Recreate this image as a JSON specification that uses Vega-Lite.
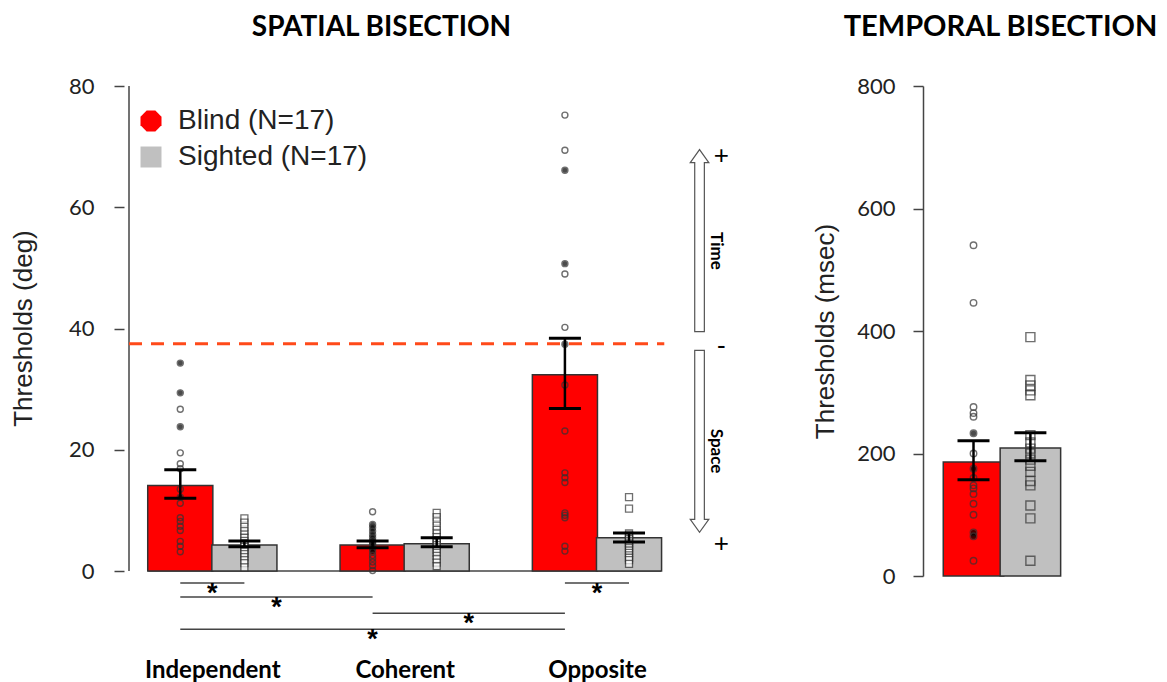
{
  "$schema": "https://vega.github.io/schema/vega-lite/v6.json",
  "background": "white",
  "padding": {"left": 10, "top": 13, "right": 0, "bottom": 0},
  "spacing": 69,
  "config": {"view": {"stroke": null}, "font": "Liberation Sans", "axis": {"grid": false}},
  "datasets": {
    "spatialBars": [
      {"condition": "Independent", "group": "Blind", "slot": 1, "mean": 14.1, "lo": 12.0, "hi": 16.7},
      {"condition": "Independent", "group": "Sighted", "slot": 2, "mean": 4.3, "lo": 4.0, "hi": 4.95},
      {"condition": "Coherent", "group": "Blind", "slot": 4, "mean": 4.3, "lo": 3.85, "hi": 4.95},
      {"condition": "Coherent", "group": "Sighted", "slot": 5, "mean": 4.5, "lo": 4.0, "hi": 5.5},
      {"condition": "Opposite", "group": "Blind", "slot": 7, "mean": 32.4, "lo": 26.8, "hi": 38.4},
      {"condition": "Opposite", "group": "Sighted", "slot": 8, "mean": 5.5, "lo": 4.8, "hi": 6.3}
    ],
    "spatialPts": [
      {"slot": 1, "group": "Blind", "value": 34.3, "type": "filled"},
      {"slot": 1, "group": "Blind", "value": 29.4, "type": "filled"},
      {"slot": 1, "group": "Blind", "value": 26.7, "type": "open"},
      {"slot": 1, "group": "Blind", "value": 23.8, "type": "filled"},
      {"slot": 1, "group": "Blind", "value": 19.5, "type": "open"},
      {"slot": 1, "group": "Blind", "value": 17.7, "type": "open"},
      {"slot": 1, "group": "Blind", "value": 16.9, "type": "open"},
      {"slot": 1, "group": "Blind", "value": 13.5, "type": "open"},
      {"slot": 1, "group": "Blind", "value": 12.2, "type": "filled"},
      {"slot": 1, "group": "Blind", "value": 11.2, "type": "open"},
      {"slot": 1, "group": "Blind", "value": 8.8, "type": "open"},
      {"slot": 1, "group": "Blind", "value": 8.2, "type": "open"},
      {"slot": 1, "group": "Blind", "value": 7.4, "type": "open"},
      {"slot": 1, "group": "Blind", "value": 6.7, "type": "open"},
      {"slot": 1, "group": "Blind", "value": 4.9, "type": "open"},
      {"slot": 1, "group": "Blind", "value": 4.1, "type": "open"},
      {"slot": 1, "group": "Blind", "value": 3.2, "type": "open"},
      {"slot": 2, "group": "Sighted", "value": 8.7, "type": "open"},
      {"slot": 2, "group": "Sighted", "value": 8.0, "type": "open"},
      {"slot": 2, "group": "Sighted", "value": 7.3, "type": "open"},
      {"slot": 2, "group": "Sighted", "value": 6.6, "type": "open"},
      {"slot": 2, "group": "Sighted", "value": 6.0, "type": "open"},
      {"slot": 2, "group": "Sighted", "value": 5.5, "type": "open"},
      {"slot": 2, "group": "Sighted", "value": 5.0, "type": "open"},
      {"slot": 2, "group": "Sighted", "value": 4.6, "type": "open"},
      {"slot": 2, "group": "Sighted", "value": 4.3, "type": "open"},
      {"slot": 2, "group": "Sighted", "value": 4.0, "type": "open"},
      {"slot": 2, "group": "Sighted", "value": 3.6, "type": "open"},
      {"slot": 2, "group": "Sighted", "value": 3.2, "type": "open"},
      {"slot": 2, "group": "Sighted", "value": 2.8, "type": "open"},
      {"slot": 2, "group": "Sighted", "value": 2.3, "type": "open"},
      {"slot": 2, "group": "Sighted", "value": 1.8, "type": "open"},
      {"slot": 2, "group": "Sighted", "value": 1.3, "type": "open"},
      {"slot": 2, "group": "Sighted", "value": 0.6, "type": "open"},
      {"slot": 4, "group": "Blind", "value": 9.8, "type": "open"},
      {"slot": 4, "group": "Blind", "value": 7.7, "type": "filled"},
      {"slot": 4, "group": "Blind", "value": 7.2, "type": "filled"},
      {"slot": 4, "group": "Blind", "value": 6.6, "type": "filled"},
      {"slot": 4, "group": "Blind", "value": 6.0, "type": "filled"},
      {"slot": 4, "group": "Blind", "value": 5.5, "type": "filled"},
      {"slot": 4, "group": "Blind", "value": 5.0, "type": "filled"},
      {"slot": 4, "group": "Blind", "value": 4.7, "type": "filled"},
      {"slot": 4, "group": "Blind", "value": 4.4, "type": "filled"},
      {"slot": 4, "group": "Blind", "value": 4.1, "type": "filled"},
      {"slot": 4, "group": "Blind", "value": 3.7, "type": "filled"},
      {"slot": 4, "group": "Blind", "value": 3.2, "type": "filled"},
      {"slot": 4, "group": "Blind", "value": 2.6, "type": "open"},
      {"slot": 4, "group": "Blind", "value": 2.1, "type": "open"},
      {"slot": 4, "group": "Blind", "value": 1.5, "type": "open"},
      {"slot": 4, "group": "Blind", "value": 0.9, "type": "open"},
      {"slot": 4, "group": "Blind", "value": 0.1, "type": "open"},
      {"slot": 5, "group": "Sighted", "value": 9.6, "type": "open"},
      {"slot": 5, "group": "Sighted", "value": 8.9, "type": "open"},
      {"slot": 5, "group": "Sighted", "value": 8.2, "type": "open"},
      {"slot": 5, "group": "Sighted", "value": 7.5, "type": "open"},
      {"slot": 5, "group": "Sighted", "value": 6.8, "type": "open"},
      {"slot": 5, "group": "Sighted", "value": 6.2, "type": "open"},
      {"slot": 5, "group": "Sighted", "value": 5.6, "type": "open"},
      {"slot": 5, "group": "Sighted", "value": 5.1, "type": "open"},
      {"slot": 5, "group": "Sighted", "value": 4.7, "type": "open"},
      {"slot": 5, "group": "Sighted", "value": 4.3, "type": "open"},
      {"slot": 5, "group": "Sighted", "value": 3.9, "type": "open"},
      {"slot": 5, "group": "Sighted", "value": 3.5, "type": "open"},
      {"slot": 5, "group": "Sighted", "value": 3.0, "type": "open"},
      {"slot": 5, "group": "Sighted", "value": 2.5, "type": "open"},
      {"slot": 5, "group": "Sighted", "value": 2.0, "type": "open"},
      {"slot": 5, "group": "Sighted", "value": 1.4, "type": "open"},
      {"slot": 5, "group": "Sighted", "value": 0.8, "type": "open"},
      {"slot": 7, "group": "Blind", "value": 75.2, "type": "open"},
      {"slot": 7, "group": "Blind", "value": 69.4, "type": "open"},
      {"slot": 7, "group": "Blind", "value": 66.1, "type": "filled"},
      {"slot": 7, "group": "Blind", "value": 50.7, "type": "filled"},
      {"slot": 7, "group": "Blind", "value": 49.0, "type": "open"},
      {"slot": 7, "group": "Blind", "value": 40.2, "type": "open"},
      {"slot": 7, "group": "Blind", "value": 37.4, "type": "filled"},
      {"slot": 7, "group": "Blind", "value": 30.7, "type": "open"},
      {"slot": 7, "group": "Blind", "value": 23.1, "type": "open"},
      {"slot": 7, "group": "Blind", "value": 16.2, "type": "open"},
      {"slot": 7, "group": "Blind", "value": 15.4, "type": "open"},
      {"slot": 7, "group": "Blind", "value": 14.6, "type": "open"},
      {"slot": 7, "group": "Blind", "value": 9.6, "type": "open"},
      {"slot": 7, "group": "Blind", "value": 9.2, "type": "open"},
      {"slot": 7, "group": "Blind", "value": 8.8, "type": "open"},
      {"slot": 7, "group": "Blind", "value": 4.1, "type": "open"},
      {"slot": 7, "group": "Blind", "value": 3.3, "type": "open"},
      {"slot": 8, "group": "Sighted", "value": 12.2, "type": "open"},
      {"slot": 8, "group": "Sighted", "value": 10.3, "type": "open"},
      {"slot": 8, "group": "Sighted", "value": 6.2, "type": "open"},
      {"slot": 8, "group": "Sighted", "value": 5.9, "type": "open"},
      {"slot": 8, "group": "Sighted", "value": 5.6, "type": "open"},
      {"slot": 8, "group": "Sighted", "value": 5.3, "type": "open"},
      {"slot": 8, "group": "Sighted", "value": 5.0, "type": "open"},
      {"slot": 8, "group": "Sighted", "value": 4.7, "type": "open"},
      {"slot": 8, "group": "Sighted", "value": 4.4, "type": "open"},
      {"slot": 8, "group": "Sighted", "value": 4.1, "type": "open"},
      {"slot": 8, "group": "Sighted", "value": 3.8, "type": "open"},
      {"slot": 8, "group": "Sighted", "value": 3.4, "type": "open"},
      {"slot": 8, "group": "Sighted", "value": 3.0, "type": "open"},
      {"slot": 8, "group": "Sighted", "value": 2.6, "type": "open"},
      {"slot": 8, "group": "Sighted", "value": 2.2, "type": "open"},
      {"slot": 8, "group": "Sighted", "value": 1.8, "type": "open"},
      {"slot": 8, "group": "Sighted", "value": 1.2, "type": "open"}
    ],
    "brackets": [
      {"from": 1, "to": 2, "mid": 1.5, "level": -1.98},
      {"from": 1, "to": 4, "mid": 2.5, "level": -4.29},
      {"from": 4, "to": 7, "mid": 5.5, "level": -6.93},
      {"from": 1, "to": 7, "mid": 4.0, "level": -9.57},
      {"from": 7, "to": 8, "mid": 7.5, "level": -1.98}
    ],
    "arrows": [
      {"dir": "up", "x": 9.1, "y": 54.5},
      {"dir": "down", "x": 9.1, "y": 21.4}
    ],
    "signs": [
      {"sign": "+", "x": 9.44, "y": 68.4},
      {"sign": "-", "x": 9.44, "y": 37.1},
      {"sign": "+", "x": 9.44, "y": 4.4}
    ],
    "dims": [
      {"label": "Time", "x": 9.35, "y": 52.8},
      {"label": "Space", "x": 9.35, "y": 19.8}
    ],
    "temporalBars": [
      {"group": "Blind", "slot": 1, "mean": 186, "lo": 157, "hi": 221},
      {"group": "Sighted", "slot": 2, "mean": 209, "lo": 188, "hi": 234}
    ],
    "temporalPts": [
      {"slot": 1, "group": "Blind", "value": 540, "type": "open"},
      {"slot": 1, "group": "Blind", "value": 446, "type": "open"},
      {"slot": 1, "group": "Blind", "value": 276, "type": "open"},
      {"slot": 1, "group": "Blind", "value": 266, "type": "open"},
      {"slot": 1, "group": "Blind", "value": 260, "type": "open"},
      {"slot": 1, "group": "Blind", "value": 233, "type": "filled"},
      {"slot": 1, "group": "Blind", "value": 200, "type": "open"},
      {"slot": 1, "group": "Blind", "value": 175, "type": "filled"},
      {"slot": 1, "group": "Blind", "value": 160, "type": "open"},
      {"slot": 1, "group": "Blind", "value": 148, "type": "open"},
      {"slot": 1, "group": "Blind", "value": 143, "type": "open"},
      {"slot": 1, "group": "Blind", "value": 134, "type": "open"},
      {"slot": 1, "group": "Blind", "value": 118, "type": "open"},
      {"slot": 1, "group": "Blind", "value": 100, "type": "open"},
      {"slot": 1, "group": "Blind", "value": 71, "type": "filled"},
      {"slot": 1, "group": "Blind", "value": 65, "type": "filled"},
      {"slot": 1, "group": "Blind", "value": 25, "type": "open"},
      {"slot": 2, "group": "Sighted", "value": 390, "type": "open"},
      {"slot": 2, "group": "Sighted", "value": 320, "type": "open"},
      {"slot": 2, "group": "Sighted", "value": 311, "type": "open"},
      {"slot": 2, "group": "Sighted", "value": 303, "type": "open"},
      {"slot": 2, "group": "Sighted", "value": 295, "type": "open"},
      {"slot": 2, "group": "Sighted", "value": 230, "type": "open"},
      {"slot": 2, "group": "Sighted", "value": 218, "type": "open"},
      {"slot": 2, "group": "Sighted", "value": 208, "type": "open"},
      {"slot": 2, "group": "Sighted", "value": 200, "type": "open"},
      {"slot": 2, "group": "Sighted", "value": 190, "type": "open"},
      {"slot": 2, "group": "Sighted", "value": 180, "type": "open"},
      {"slot": 2, "group": "Sighted", "value": 170, "type": "open"},
      {"slot": 2, "group": "Sighted", "value": 155, "type": "open"},
      {"slot": 2, "group": "Sighted", "value": 148, "type": "open"},
      {"slot": 2, "group": "Sighted", "value": 115, "type": "open"},
      {"slot": 2, "group": "Sighted", "value": 94, "type": "open"},
      {"slot": 2, "group": "Sighted", "value": 25, "type": "open"}
    ]
  },
  "hconcat": [
    {
      "width": 619,
      "height": 570,
      "title": {"text": "SPATIAL BISECTION", "font": "Lato", "fontWeight": "bold", "fontSize": 28, "color": "black", "frame": "group", "anchor": "middle", "offset": 33, "dx": -52},
      "layer": [
        {
          "data": {"values": [{}]},
          "mark": {"type": "rule", "color": "#444", "strokeWidth": 1.5},
          "encoding": {
            "x": {"datum": 0.2, "type": "quantitative", "title": null},
            "y": {"datum": 0, "type": "quantitative", "title": "Thresholds (deg)"},
            "y2": {"datum": 80}
          }
        },
        {
          "data": {"values": [{}]},
          "mark": {"type": "rule", "color": "#ff4a1a", "strokeWidth": 3, "strokeDash": [13, 9]},
          "encoding": {
            "x": {"datum": 0.2, "type": "quantitative", "title": null},
            "x2": {"datum": 8.55},
            "y": {"datum": 37.5, "type": "quantitative", "title": "Thresholds (deg)"}
          }
        },
        {
          "data": {"values": [{}]},
          "mark": {"type": "rule", "color": "#444", "strokeWidth": 1.5},
          "encoding": {
            "x": {"datum": 0.5, "type": "quantitative", "title": null},
            "x2": {"datum": 8.5},
            "y": {"datum": 0, "type": "quantitative", "title": "Thresholds (deg)"}
          }
        },
        {
          "data": {"name": "spatialBars"},
          "mark": {"type": "bar", "width": 65.1, "stroke": "#333", "strokeWidth": 1.5},
          "encoding": {
            "x": {
              "field": "slot", "type": "quantitative", "title": null,
              "scale": {"domain": [0.2, 9.7], "nice": false, "zero": false},
              "axis": {"orient": "bottom", "values": [1.5, 4.5, 7.5], "labelExpr": "datum.value == 1.5 ? 'Independent' : datum.value == 4.5 ? 'Coherent' : 'Opposite'", "labelFont": "Lato", "labelFontWeight": "bold", "labelFontSize": 24, "labelColor": "black", "labelPadding": 2, "ticks": false, "domain": false, "labelFlush": false, "labelOverlap": false}
            },
            "y": {
              "field": "mean", "type": "quantitative", "title": "Thresholds (deg)",
              "scale": {"domain": [-14, 80], "nice": false, "zero": false},
              "axis": {"values": [0, 20, 40, 60, 80], "titleFont": "Liberation Sans", "titleFontSize": 26, "titleFontWeight": "normal", "titleColor": "#222", "titleX": -88, "titleY": 242, "labelFont": "Lato", "labelFontSize": 22, "labelColor": "#222", "labelPadding": 20, "tickSize": 10, "tickColor": "#444", "tickWidth": 1.5, "domain": false}
            },
            "y2": {"datum": 0},
            "fill": {
              "field": "group", "type": "nominal",
              "scale": {"domain": ["Blind", "Sighted"], "range": ["#ff0000", "#c0c0c0"]},
              "legend": {
                "orient": "none", "legendX": 13, "legendY": 21, "title": null,
                "labelFont": "Liberation Sans", "labelFontSize": 28, "labelColor": "#222", "labelLimit": 0,
                "symbolSize": 441, "symbolStrokeWidth": 0, "rowPadding": 8, "labelOffset": 13,
                "symbolType": {"expr": "datum.value === 'Blind' ? 'M-0.414,-1L0.414,-1L1,-0.414L1,0.414L0.414,1L-0.414,1L-1,0.414L-1,-0.414Z' : 'square'"},
                "labelExpr": "datum.label + ' (N=17)'"
              }
            }
          }
        },
        {
          "data": {"name": "spatialPts"},
          "transform": [{"filter": "datum.group === 'Blind'"}],
          "mark": {"type": "point", "shape": "circle", "filled": true, "size": 36, "stroke": "#333", "strokeWidth": 1.4},
          "encoding": {
            "x": {"field": "slot", "type": "quantitative", "title": null},
            "y": {"field": "value", "type": "quantitative", "title": "Thresholds (deg)"},
            "fill": {"condition": {"test": "datum.type === 'filled'", "value": "black"}, "value": "transparent"}
          }
        },
        {
          "data": {"name": "spatialPts"},
          "transform": [{"filter": "datum.group === 'Sighted'"}],
          "mark": {"type": "point", "shape": "square", "filled": true, "size": 49, "stroke": "#333", "strokeWidth": 1.3},
          "encoding": {
            "x": {"field": "slot", "type": "quantitative", "title": null},
            "y": {"field": "value", "type": "quantitative", "title": "Thresholds (deg)"},
            "fill": {"condition": {"test": "datum.type === 'filled'", "value": "black"}, "value": "white"}
          }
        },
        {
          "data": {"name": "spatialBars"},
          "mark": {"type": "rule", "color": "black", "strokeWidth": 2.5},
          "encoding": {
            "x": {"field": "slot", "type": "quantitative", "title": null},
            "y": {"field": "lo", "type": "quantitative", "title": "Thresholds (deg)"},
            "y2": {"field": "hi"}
          }
        },
        {
          "data": {"name": "spatialBars"},
          "mark": {"type": "tick", "orient": "horizontal", "size": 32, "thickness": 3, "color": "black", "opacity": 1},
          "encoding": {
            "x": {"field": "slot", "type": "quantitative", "title": null},
            "y": {"field": "lo", "type": "quantitative", "title": "Thresholds (deg)"}
          }
        },
        {
          "data": {"name": "spatialBars"},
          "mark": {"type": "tick", "orient": "horizontal", "size": 32, "thickness": 3, "color": "black", "opacity": 1},
          "encoding": {
            "x": {"field": "slot", "type": "quantitative", "title": null},
            "y": {"field": "hi", "type": "quantitative", "title": "Thresholds (deg)"}
          }
        },
        {
          "data": {"name": "brackets"},
          "mark": {"type": "rule", "color": "#444", "strokeWidth": 1.5},
          "encoding": {
            "x": {"field": "from", "type": "quantitative", "title": null},
            "x2": {"field": "to"},
            "y": {"field": "level", "type": "quantitative", "title": "Thresholds (deg)"}
          }
        },
        {
          "data": {"name": "brackets"},
          "mark": {"type": "text", "text": "*", "font": "Liberation Sans", "fontWeight": "bold", "fontSize": 27, "color": "black", "baseline": "alphabetic", "align": "center", "dy": 18.5},
          "encoding": {
            "x": {"field": "mid", "type": "quantitative", "title": null},
            "y": {"field": "level", "type": "quantitative", "title": "Thresholds (deg)"}
          }
        },
        {
          "data": {"name": "arrows"},
          "transform": [{"filter": "datum.dir === 'up'"}],
          "mark": {"type": "point", "filled": true, "fill": "white", "stroke": "#555", "strokeWidth": 1.2, "opacity": 1, "size": 33124, "shape": "M-0.053,1L0.053,1L0.053,-0.857L0.102,-0.857L0,-1L-0.102,-0.857L-0.053,-0.857Z"},
          "encoding": {
            "x": {"field": "x", "type": "quantitative", "title": null},
            "y": {"field": "y", "type": "quantitative", "title": "Thresholds (deg)"}
          }
        },
        {
          "data": {"name": "arrows"},
          "transform": [{"filter": "datum.dir === 'down'"}],
          "mark": {"type": "point", "filled": true, "fill": "white", "stroke": "#555", "strokeWidth": 1.2, "opacity": 1, "size": 33124, "shape": "M-0.053,-1L0.053,-1L0.053,0.857L0.102,0.857L0,1L-0.102,0.857L-0.053,0.857Z"},
          "encoding": {
            "x": {"field": "x", "type": "quantitative", "title": null},
            "y": {"field": "y", "type": "quantitative", "title": "Thresholds (deg)"}
          }
        },
        {
          "data": {"name": "signs"},
          "mark": {"type": "text", "font": "Liberation Sans", "fontSize": 26, "color": "black", "baseline": "middle", "align": "center"},
          "encoding": {
            "x": {"field": "x", "type": "quantitative", "title": null},
            "y": {"field": "y", "type": "quantitative", "title": "Thresholds (deg)"},
            "text": {"field": "sign"}
          }
        },
        {
          "data": {"name": "dims"},
          "mark": {"type": "text", "font": "Lato", "fontWeight": "bold", "fontSize": 17, "color": "black", "baseline": "middle", "align": "center", "angle": 90},
          "encoding": {
            "x": {"field": "x", "type": "quantitative", "title": null},
            "y": {"field": "y", "type": "quantitative", "title": "Thresholds (deg)"},
            "text": {"field": "label"}
          }
        }
      ]
    },
    {
      "width": 167,
      "height": 490,
      "title": {"text": "TEMPORAL BISECTION", "font": "Lato", "fontWeight": "bold", "fontSize": 29, "color": "black", "frame": "group", "anchor": "middle", "offset": 33, "dx": -6},
      "layer": [
        {
          "data": {"name": "temporalBars"},
          "mark": {"type": "bar", "width": 60.5, "stroke": "#333", "strokeWidth": 1.5},
          "encoding": {
            "x": {"field": "slot", "type": "quantitative", "scale": {"domain": [0.2, 2.96], "nice": false, "zero": false}, "axis": null},
            "y": {
              "field": "mean", "type": "quantitative", "title": "Thresholds (msec)",
              "scale": {"domain": [0, 800], "nice": false},
              "axis": {"values": [0, 200, 400, 600, 800], "titleFont": "Liberation Sans", "titleFontSize": 26, "titleFontWeight": "normal", "titleColor": "#222", "titlePadding": 18, "labelFont": "Lato", "labelFontSize": 22, "labelColor": "#222", "labelPadding": 18, "tickSize": 10, "tickColor": "#444", "tickWidth": 1.5, "domain": true, "domainColor": "#444", "domainWidth": 1.5}
            },
            "y2": {"datum": 0},
            "fill": {"field": "group", "type": "nominal", "scale": {"domain": ["Blind", "Sighted"], "range": ["#ff0000", "#c0c0c0"]}, "legend": null}
          }
        },
        {
          "data": {"name": "temporalPts"},
          "transform": [{"filter": "datum.group === 'Blind'"}],
          "mark": {"type": "point", "shape": "circle", "filled": true, "size": 42, "stroke": "#333", "strokeWidth": 1.4},
          "encoding": {
            "x": {"field": "slot", "type": "quantitative", "axis": null},
            "y": {"field": "value", "type": "quantitative", "title": "Thresholds (msec)"},
            "fill": {"condition": {"test": "datum.type === 'filled'", "value": "black"}, "value": "transparent"}
          }
        },
        {
          "data": {"name": "temporalPts"},
          "transform": [{"filter": "datum.group === 'Sighted'"}],
          "mark": {"type": "point", "shape": "square", "filled": true, "size": 81, "stroke": "#333", "strokeWidth": 1.4},
          "encoding": {
            "x": {"field": "slot", "type": "quantitative", "axis": null},
            "y": {"field": "value", "type": "quantitative", "title": "Thresholds (msec)"},
            "fill": {"condition": {"test": "datum.type === 'filled'", "value": "black"}, "value": "transparent"}
          }
        },
        {
          "data": {"name": "temporalBars"},
          "mark": {"type": "rule", "color": "black", "strokeWidth": 2.5},
          "encoding": {
            "x": {"field": "slot", "type": "quantitative", "axis": null},
            "y": {"field": "lo", "type": "quantitative", "title": "Thresholds (msec)"},
            "y2": {"field": "hi"}
          }
        },
        {
          "data": {"name": "temporalBars"},
          "mark": {"type": "tick", "orient": "horizontal", "size": 32, "thickness": 3, "color": "black", "opacity": 1},
          "encoding": {
            "x": {"field": "slot", "type": "quantitative", "axis": null},
            "y": {"field": "lo", "type": "quantitative", "title": "Thresholds (msec)"}
          }
        },
        {
          "data": {"name": "temporalBars"},
          "mark": {"type": "tick", "orient": "horizontal", "size": 32, "thickness": 3, "color": "black", "opacity": 1},
          "encoding": {
            "x": {"field": "slot", "type": "quantitative", "axis": null},
            "y": {"field": "hi", "type": "quantitative", "title": "Thresholds (msec)"}
          }
        }
      ]
    }
  ]
}
